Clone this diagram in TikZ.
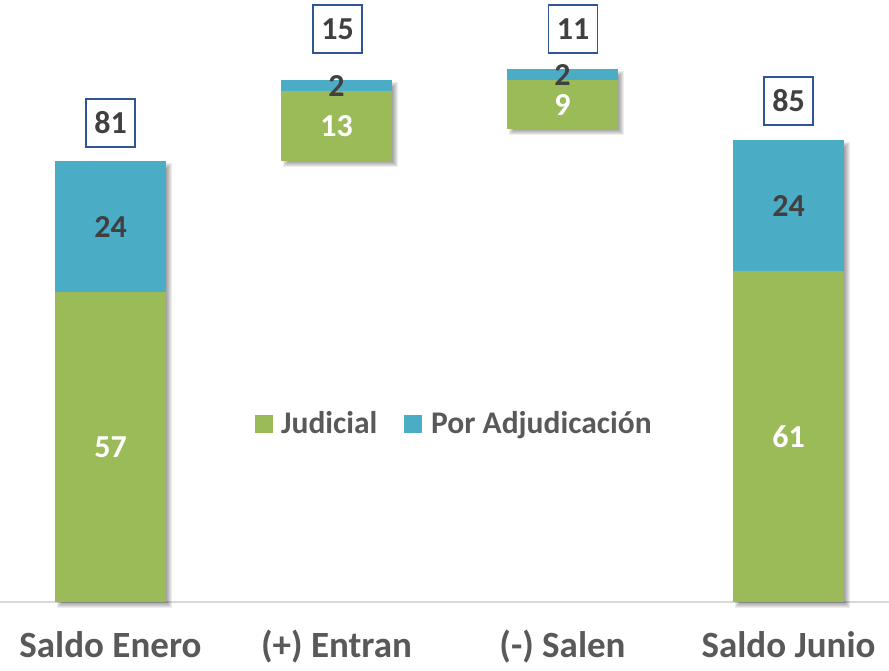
\documentclass[tikz,border=0pt]{standalone}
\usepackage{fontspec}
\setmainfont{Carlito}
\definecolor{jgreen}{HTML}{9BBB59}
\definecolor{pblue}{HTML}{4BACC6}
\definecolor{dtext}{HTML}{404040}
\definecolor{gtext}{HTML}{595959}
\definecolor{boxblue}{HTML}{2F5597}
\definecolor{axisgray}{HTML}{D9D9D9}
\tikzset{
  vallab/.style={font=\fontsize{32}{32}\selectfont\bfseries, text=dtext, inner sep=0pt},
  whitelab/.style={font=\fontsize{32}{32}\selectfont\bfseries, text=white, inner sep=0pt},
  totbox/.style={draw=boxblue, line width=1.5pt, fill=white, minimum width=49pt, minimum height=48pt, inner sep=0pt, font=\fontsize{32}{32}\selectfont\bfseries, text=dtext},
  catlab/.style={font=\fontsize{37}{37}\selectfont\bfseries, text=gtext, anchor=base, inner sep=0pt},
  leglab/.style={font=\fontsize{31.5}{31.5}\selectfont\bfseries, text=gtext, anchor=base west, inner sep=0pt},
}
\newcommand{\barshade}[4]{%
  \foreach \k in {-2,-1,0,1,2,3} {
    \fill[black, opacity=0.07] (#1+4+\k,#2+4+\k) rectangle (#3+4-\k,#4+4-\k);
  }%
}
\begin{document}
\begin{tikzpicture}[x=1pt,y=-1pt]
\useasboundingbox (0,0) rectangle (889,671);
% axis
\draw[axisgray, line width=2pt] (0,602) -- (889,602);
% shadows
\barshade{55}{161}{166}{602}
\barshade{281}{80}{392}{161}
\barshade{507}{69}{618}{129}
\barshade{733}{140}{844}{602}
% Saldo Enero
\fill[pblue] (55,161) rectangle (166,292);
\fill[jgreen] (55,292) rectangle (166,602);
\node[vallab] (e24) at (110.5,227) {24};
\node[whitelab] (e57) at (110.5,447) {57};
\node[totbox] (t81) at (110.5,123) {81};
% Entran
\fill[pblue] (281,80) rectangle (392,91);
\fill[jgreen] (281,91) rectangle (392,161);
\node[vallab] (n2) at (336.5,86) {2};
\node[whitelab] (n13) at (336.5,126) {13};
\node[totbox] (t15) at (337.5,29) {15};
% Salen
\fill[pblue] (507,69) rectangle (618,80);
\fill[jgreen] (507,80) rectangle (618,129);
\node[vallab] (s2) at (562.5,75) {2};
\node[whitelab] (s9) at (562.5,105) {9};
\node[totbox] (t11) at (573,29) {11};
% Saldo Junio
\fill[pblue] (733,140) rectangle (844,271);
\fill[jgreen] (733,271) rectangle (844,602);
\node[vallab] (j24) at (788.5,206) {24};
\node[whitelab] (j61) at (788.5,437) {61};
\node[totbox] (t85) at (788.5,101) {85};
% legend
\fill[jgreen] (255,415) rectangle (273,433);
\node[leglab] (lj) at (281,433.5) {Judicial};
\fill[pblue] (404,415) rectangle (422,433);
\node[leglab] (lp) at (431,433.5) {Por Adjudicación};
% categories
\node[catlab] (c1) at (110.5,657) {Saldo Enero};
\node[catlab] (c2) at (336.5,657) {(+) Entran};
\node[catlab] (c3) at (562.5,657) {(-) Salen};
\node[catlab] (c4) at (788.5,657) {Saldo Junio};
\end{tikzpicture}
\end{document}
